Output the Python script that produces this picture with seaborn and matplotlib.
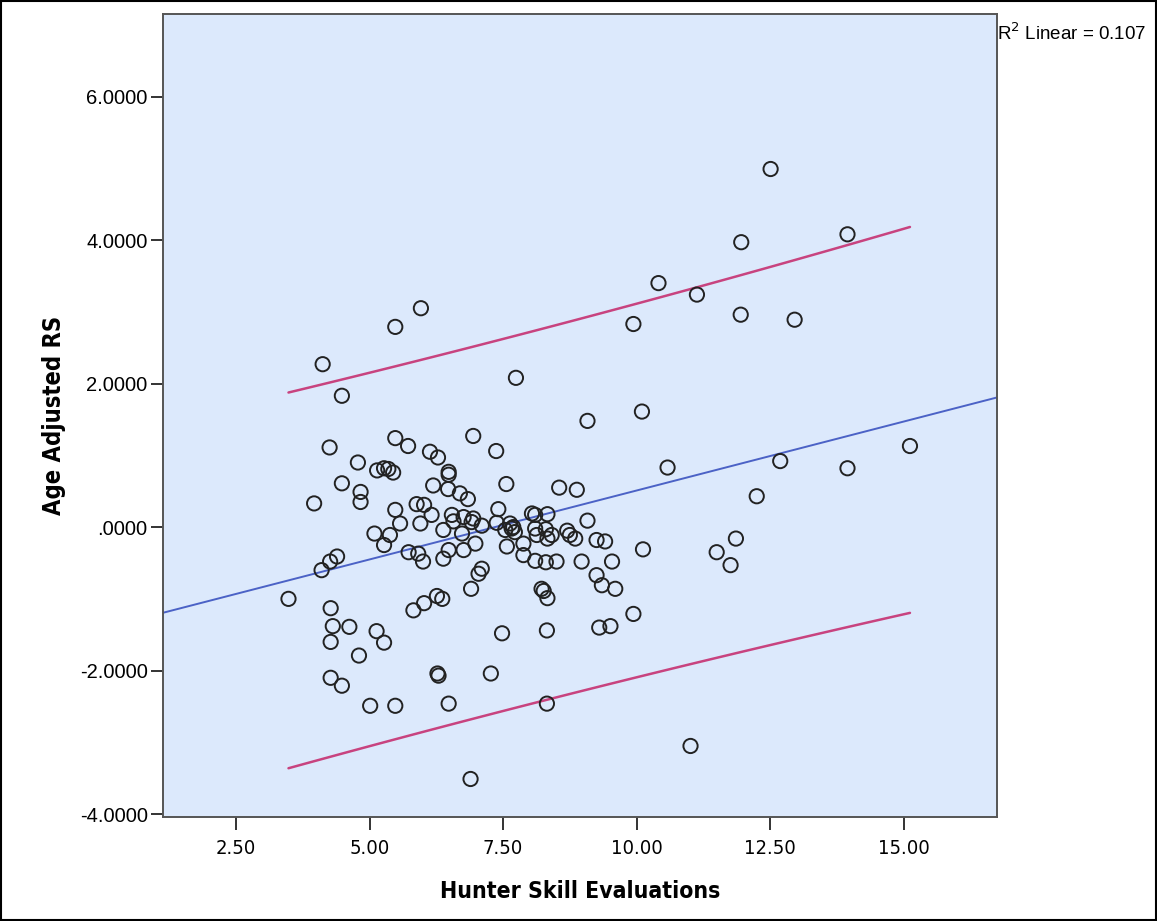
import numpy as np
import pandas as pd
import matplotlib
matplotlib.use("Agg")
import matplotlib.pyplot as plt
import matplotlib.ticker as mticker
from matplotlib.patches import Rectangle
from matplotlib import font_manager
import seaborn as sns

# ── Dados ──────────────────────────────────────────────────────────
skill = [
    12.51, 11.96, 13.95, 10.41, 11.13, 11.95, 12.96, 9.94, 5.96, 5.48,
    4.12, 7.74, 4.48, 9.08, 10.10, 15.12, 12.69, 13.95, 10.58, 12.25,
    6.94, 7.37, 4.25, 5.48, 5.72, 6.13, 6.28, 4.78, 5.14, 5.27,
    5.35, 5.44, 6.48, 6.48, 4.48, 4.83, 4.83, 6.19, 6.47, 6.69,
    6.84, 3.96, 5.48, 5.88, 6.02, 6.16, 5.57, 5.95, 6.54, 6.57,
    6.76, 6.94, 7.56, 8.55, 8.88, 7.41, 8.04, 8.10, 8.33, 9.08,
    7.38, 7.63, 7.69, 8.70, 8.75, 8.85, 8.10, 8.30, 7.10, 6.91,
    6.38, 6.73, 5.09, 5.38, 5.27, 5.73, 5.91, 6.00, 6.38, 6.48,
    6.76, 6.98, 7.04, 7.10, 6.90, 7.54, 7.66, 7.72, 8.13, 8.33,
    8.41, 9.25, 9.41, 7.57, 7.88, 7.88, 8.10, 8.30, 8.50, 8.97,
    9.54, 10.12, 9.25, 9.35, 9.60, 8.22, 8.26, 8.33, 9.94, 9.30,
    9.51, 7.48, 8.32, 7.27, 8.32, 4.10, 4.26, 4.39, 3.48, 4.27,
    4.31, 4.62, 4.27, 5.13, 5.27, 4.80, 5.82, 6.02, 6.26, 6.36,
    4.27, 4.48, 6.27, 6.29, 5.01, 5.48, 6.48, 11.86, 11.50, 11.76,
    11.01, 6.89,
]
rs = [
    4.99, 3.97, 4.08, 3.40, 3.24, 2.96, 2.89, 2.83, 3.05, 2.79,
    2.27, 2.08, 1.83, 1.48, 1.61, 1.13, 0.92, 0.82, 0.83, 0.43,
    1.27, 1.06, 1.11, 1.24, 1.13, 1.05, 0.97, 0.90, 0.79, 0.82,
    0.81, 0.76, 0.77, 0.73, 0.61, 0.49, 0.35, 0.58, 0.53, 0.47,
    0.39, 0.33, 0.24, 0.32, 0.31, 0.17, 0.05, 0.05, 0.17, 0.08,
    0.14, 0.12, 0.60, 0.55, 0.52, 0.25, 0.19, 0.17, 0.18, 0.09,
    0.06, 0.05, 0.00, -0.05, -0.11, -0.16, -0.02, -0.03, 0.02, 0.07,
    -0.04, -0.09, -0.09, -0.11, -0.25, -0.35, -0.37, -0.48, -0.44, -0.32,
    -0.32, -0.23, -0.65, -0.58, -0.86, -0.04, -0.02, -0.07, -0.11, -0.16,
    -0.11, -0.18, -0.20, -0.27, -0.23, -0.39, -0.47, -0.49, -0.48, -0.48,
    -0.48, -0.31, -0.67, -0.81, -0.86, -0.86, -0.89, -0.99, -1.21, -1.40,
    -1.38, -1.48, -1.44, -2.04, -2.46, -0.60, -0.48, -0.41, -1.00, -1.13,
    -1.38, -1.39, -1.60, -1.45, -1.61, -1.79, -1.16, -1.06, -0.96, -1.00,
    -2.10, -2.21, -2.04, -2.07, -2.49, -2.49, -2.46, -0.16, -0.35, -0.53,
    -3.05, -3.51,
]
r2_label = "0.107"

df = pd.DataFrame({"Hunter Skill Evaluations": skill, "Age Adjusted RS": rs})

# ── Estilo ─────────────────────────────────────────────────────────
sns.set_style("ticks", {
    "axes.facecolor": "#dce9fc",
    "axes.edgecolor": "#4a4a4a",
    "axes.labelcolor": "black",
    "text.color": "black",
    "xtick.color": "black",
    "ytick.color": "black",
})
plt.rcParams["font.family"] = ["Liberation Sans", "DejaVu Sans"]

# fonte estreita para os rótulos, se existir
nomes = {f.name for f in font_manager.fontManager.ttflist}
tem_condensed = any(f.name == "DejaVu Sans" and "ondensed" in str(f.stretch) + f.fname
                    for f in font_manager.fontManager.ttflist)
if "Liberation Sans Narrow" in nomes:
    label_font = dict(family="Liberation Sans Narrow")
elif tem_condensed:
    label_font = dict(family="DejaVu Sans", stretch="condensed")
else:
    label_font = dict(family="Liberation Sans")

fig = plt.figure(figsize=(11.57, 9.21), dpi=100)
ax = fig.add_axes([0.1409, 0.1129, 0.7208, 0.8719])
ax.set_xlim(1.13, 16.75)
ax.set_ylim(-4.04, 7.15)

# Reta de regressão + pontos (círculos vazados)
sns.regplot(
    data=df, x="Hunter Skill Evaluations", y="Age Adjusted RS",
    ci=None, truncate=False, ax=ax, color="black",
    scatter_kws={"s": 105, "facecolors": "none", "edgecolors": "#222222",
                 "linewidths": 1.4, "alpha": 1, "zorder": 3},
    line_kws={"color": "#4b62c6", "linewidth": 1.4, "zorder": 2},
)

# Intervalo de predição 95% (individual)
x = np.asarray(skill)
y = np.asarray(rs)
n = len(x)
b1, b0 = np.polyfit(x, y, 1)
resid = y - (b0 + b1 * x)
s = np.sqrt(np.sum(resid ** 2) / (n - 2))
t_crit = 1.976
xg = np.linspace(x.min(), x.max(), 60)
half = t_crit * s * np.sqrt(1 + 1 / n + (xg - x.mean()) ** 2 / np.sum((x - x.mean()) ** 2))
for sign in (1, -1):
    ax.plot(xg, b0 + b1 * xg + sign * half, color="#c8437f", linewidth=1.8, zorder=2)

# Eixos
ax.set_xticks([2.5, 5.0, 7.5, 10.0, 12.5, 15.0])
ax.set_yticks([-4, -2, 0, 2, 4, 6])
ax.xaxis.set_major_formatter(mticker.FormatStrFormatter("%.2f"))
ax.yaxis.set_major_formatter(
    mticker.FuncFormatter(lambda v, p: ".0000" if abs(v) < 1e-9 else f"{v:.4f}")
)
ax.tick_params(axis="both", length=9, width=1.4, color="#333333", direction="out")
ax.tick_params(axis="y", labelsize=14.5, pad=2)
ax.tick_params(axis="x", labelsize=14.5, pad=7)
for lab in ax.get_xticklabels():
    lab.set_family(label_font["family"])
    if "stretch" in label_font:
        lab.set_stretch(label_font["stretch"])
for sp in ax.spines.values():
    sp.set_visible(True)
    sp.set_linewidth(1.4)
    sp.set_color("#555555")

ax.set_xlabel("Hunter Skill Evaluations", fontsize=16.5, fontweight="bold",
              labelpad=16, **label_font)
ax.set_ylabel("Age Adjusted RS", fontsize=17, fontweight="bold",
              labelpad=10, **label_font)

fig.text(0.862, 0.964, f"R$^2$ Linear = {r2_label}", fontsize=13.5,
         ha="left", va="center")

# Moldura da figura
fig.patches.append(Rectangle((0.001, 0.001), 0.998, 0.998, transform=fig.transFigure,
                             fill=False, edgecolor="black", linewidth=1.5))

fig.savefig("out.png", dpi=100)
